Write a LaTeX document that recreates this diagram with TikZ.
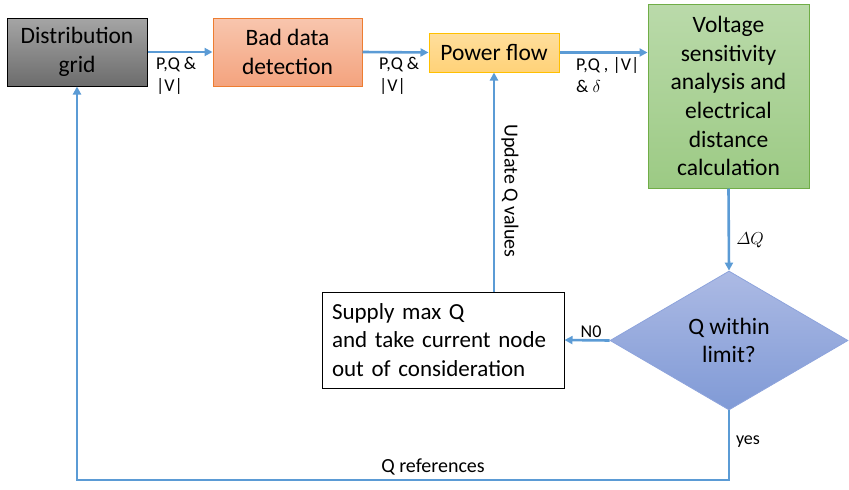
\documentclass[tikz,border=0pt]{standalone}
\usepackage{amsmath}
\usepackage{fontspec}
\setmainfont{Carlito}
\usetikzlibrary{shapes.geometric,arrows.meta}
\definecolor{flow}{RGB}{91,155,213}
\definecolor{gridtop}{RGB}{165,165,165}
\definecolor{gridbot}{RGB}{108,108,108}
\definecolor{badtop}{RGB}{248,198,174}
\definecolor{badbot}{RGB}{244,163,126}
\definecolor{badedge}{RGB}{237,125,49}
\definecolor{pftop}{RGB}{255,222,156}
\definecolor{pfbot}{RGB}{255,210,120}
\definecolor{pfedge}{RGB}{255,192,0}
\definecolor{vtop}{RGB}{186,218,170}
\definecolor{vbot}{RGB}{156,202,132}
\definecolor{vedge}{RGB}{112,173,71}
\definecolor{dtop}{RGB}{172,186,228}
\definecolor{dbot}{RGB}{128,154,214}
\definecolor{dedge}{RGB}{142,164,220}
\tikzset{
  boxtext/.style={font=\fontsize{23.5}{28.7}\selectfont, align=center, inner sep=0pt},
  conn/.style={draw=flow, line width=2.6pt, -{Triangle[length=8pt,width=8pt]}},
  lbl/.style={font=\fontsize{18}{22.5}\selectfont, inner sep=0pt},
  biglbl/.style={font=\fontsize{20}{24}\selectfont, inner sep=0pt}
}
\begin{document}
\begin{tikzpicture}[x=1pt,y=-1pt]
\useasboundingbox (0,0) rectangle (849,490);
\node[boxtext, draw=black, line width=1pt, top color=gridtop, bottom color=gridbot,
  minimum width=140pt, minimum height=68pt] (dist) at (77,52) {Distribution\\grid};
\node[boxtext, draw=badedge, line width=1pt, top color=badtop, bottom color=badbot,
  minimum width=149pt, minimum height=68pt] (bad) at (287.5,52) {Bad data\\detection};
\node[boxtext, draw=pfedge, line width=1pt, top color=pftop, bottom color=pfbot,
  minimum width=130pt, minimum height=39pt] (pf) at (494,52.5) {Power flow};
\node[boxtext, draw=vedge, line width=1pt, top color=vtop, bottom color=vbot,
  minimum width=161pt, minimum height=184pt] (volt) at (728.5,96)
  {Voltage\\sensitivity\\analysis and\\electrical\\distance\\calculation};
\node[boxtext, diamond, aspect=1.71, draw=dedge, line width=0.8pt, top color=dtop, bottom color=dbot,
  minimum width=238pt, minimum height=139pt] (dia) at (729,340.5) {Q within\\limit?};
\node[boxtext, font=\fontsize{23}{28.5}\selectfont, draw=black, line width=1pt, fill=white, align=left, text width=222pt,
  minimum width=242pt, minimum height=96pt, inner xsep=10pt] (sup) at (443,340)
  {Supply max Q\\and take current node\\out of consideration};
\coordinate (qref) at (400,480);
\draw[conn] (dist.east) -- (bad.west);
\draw[conn] (bad.east) -- (pf.west);
\draw[conn] (pf.east) -- (pf.east -| volt.west);
\draw[conn] (volt.south) -- (dia.north);
\draw[conn] (dia.west) -- (sup.east);
\draw[conn] (pf.south |- sup.north) -- (pf.south);
\draw[conn] (dia.south) -- (dia.south |- qref) -- (dist.south |- qref) -- (dist.south);
\node[lbl, align=left, anchor=north west] (l1) at (156,57) {P,Q \&\\|V|};
\node[lbl, align=left, anchor=north west] (l2) at (379,57) {P,Q \&\\|V|};
\node[lbl, align=left, anchor=north west] (l3) at (576,57) {P,Q , |V|\\\& $\delta$};
\node[lbl] (dq) at (750,240) {$\varDelta Q$};
\node[lbl] (no) at (591,332) {N0};
\node[lbl] (yes) at (748,442) {yes};
\node[biglbl] (qr) at (433,467) {Q references};
\node[biglbl, rotate=-90] (upd) at (510,191) {Update Q values};
\end{tikzpicture}
\end{document}
